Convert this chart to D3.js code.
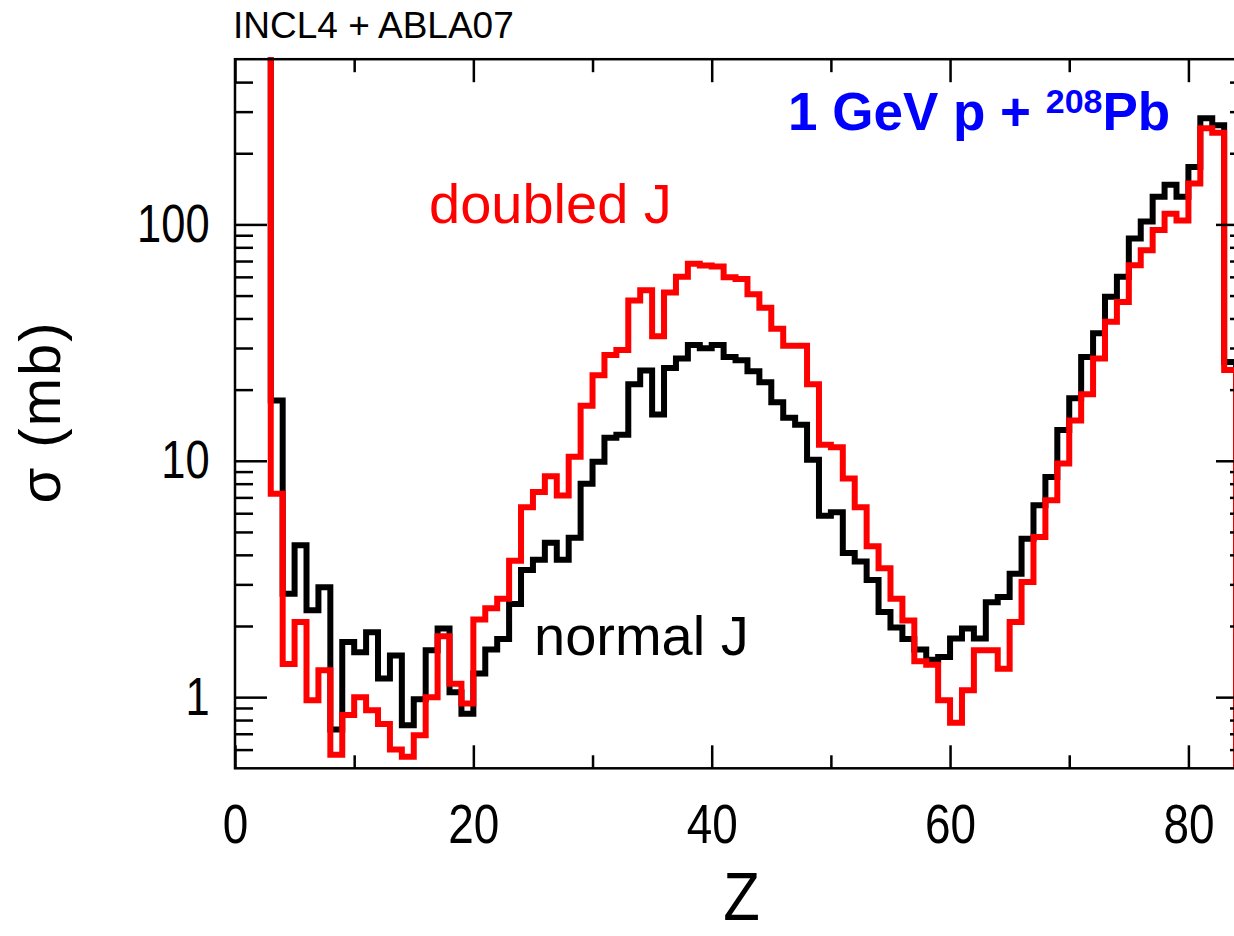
<!DOCTYPE html>
<html><head><meta charset="utf-8">
<script src="https://cdn.jsdelivr.net/npm/d3@7"></script>
<style>html,body{margin:0;padding:0;background:#fff;overflow:hidden}</style>
</head><body><svg id="c" width="1234" height="936"></svg>
<script>
// Bin lower edges (Z); the Z=2 bin is off-scale (above the top of the frame)
const Z = [2,3,4,5,6,7,8,9,10,11,12,13,14,15,16,17,18,19,20,21,22,23,24,25,26,27,28,29,30,31,32,33,34,35,36,37,38,39,40,41,42,43,44,45,46,47,48,49,50,51,52,53,54,55,56,57,58,59,60,61,62,63,64,65,66,67,68,69,70,71,72,73,74,75,76,77,78,79,80,81,82,83];
const normalJ = [3000,18.0,2.74,4.39,2.33,2.92,0.73,1.71,1.55,1.88,1.20,1.50,0.76,0.98,1.58,1.95,1.05,0.85,1.26,1.59,1.76,2.48,3.45,3.81,4.50,3.81,4.72,8.0,9.91,12.5,12.9,21.1,24.1,15.7,24.7,27.1,30.9,29.9,30.9,27.5,26.6,23.9,21.5,17.7,15.2,14.2,10.1,5.85,6.05,4.07,3.75,3.13,2.29,1.97,1.76,1.59,1.44,1.48,1.77,1.95,1.77,2.52,2.65,3.33,4.68,6.48,8.54,13.5,18.4,27.5,34.6,49.4,60,87.2,103,131,147,131,175,281,263,26.2];
const doubledJ = [3000,7.26,1.38,2.08,0.97,1.30,0.57,0.84,1.0,0.88,0.77,0.60,0.56,0.69,1.0,1.81,1.14,0.94,2.13,2.38,2.61,3.78,6.36,7.37,8.61,7.13,10.4,17.1,23.0,28.0,29.4,47.7,52.7,33.6,51.5,60.1,68.1,67.0,66.4,59.7,58.7,50.6,44.4,36.2,30.7,30.7,21.1,11.7,11.4,8.41,6.36,4.35,3.51,2.61,2.11,1.42,1.37,0.97,0.78,1.07,1.58,1.58,1.32,2.08,3.07,4.76,6.80,9.73,14.8,19.1,27.1,38.7,47.0,67.2,77.8,94.6,111,104,149,255,244,24.2];
const xMajorTicks = [0,20,40,60,80];
const xMinorTicks = [10,30,50,70];
const yMajorTicks = [1,10,100];
const yMinorTicks = [0.6,0.7,0.8,0.9,2,3,4,5,6,7,8,9,20,30,40,50,60,70,80,90,200,300,400];
const xDomain = [0,85];
const yDomain = [0.5,500];

const svg = d3.select('#c');
const L = 235, R = 1248, T = 59.2, B = 768.3;
const x = d3.scaleLinear().domain(xDomain).range([L,R]);
const y = d3.scaleLog().domain(yDomain).range([B,T]);

svg.append('rect').attr('width',1234).attr('height',936).attr('fill','#fff');

const defs = svg.append('defs');
defs.append('clipPath').attr('id','plotclip').append('rect')
  .attr('x',L).attr('y',T-2).attr('width',R-L).attr('height',B-T+2);

// histograms
const line = d3.line().x(d=>x(d.z)).y(d=>y(d.v)).curve(d3.curveStepAfter);
function pts(vals){
  const p = Z.map((z,i)=>({z:z,v:vals[i]}));
  const last = Z[Z.length-1]+1;
  p.push({z:last, v:vals[vals.length-1]});
  p.push({z:last, v:yDomain[0]/10});
  return p;
}
const g = svg.append('g').attr('clip-path','url(#plotclip)');
g.append('path').attr('d',line(pts(normalJ))).attr('fill','none')
  .attr('stroke','#000').attr('stroke-width',6).attr('stroke-linejoin','miter');
g.append('path').attr('d',line(pts(doubledJ))).attr('fill','none')
  .attr('stroke','#ff0000').attr('stroke-width',6).attr('stroke-linejoin','miter');

// axes
const wordFont = "'Liberation Sans',Arial,sans-serif";
const narrow = 0.82;
function styleAxis(sel){
  sel.select('.domain').remove();
  sel.selectAll('line').attr('stroke','#000').attr('stroke-width',2.5);
}
const bMaj = svg.append('g').attr('transform',`translate(0,${B})`)
  .call(d3.axisBottom(x).tickValues(xMajorTicks).tickSizeInner(-23).tickSizeOuter(0).tickPadding(35).tickFormat(d3.format('d')));
styleAxis(bMaj);
bMaj.selectAll('text').attr('font-family',wordFont).attr('font-size',56).attr('fill','#000')
  .attr('transform',`scale(${narrow},1)`);
const bMin = svg.append('g').attr('transform',`translate(0,${B})`)
  .call(d3.axisBottom(x).tickValues(xMinorTicks).tickSizeInner(-13).tickSizeOuter(0).tickFormat(''));
styleAxis(bMin);
const tMaj = svg.append('g').attr('transform',`translate(0,${T})`)
  .call(d3.axisTop(x).tickValues(xMajorTicks).tickSizeInner(-23).tickSizeOuter(0).tickFormat(''));
styleAxis(tMaj);
const tMin = svg.append('g').attr('transform',`translate(0,${T})`)
  .call(d3.axisTop(x).tickValues(xMinorTicks).tickSizeInner(-13).tickSizeOuter(0).tickFormat(''));
styleAxis(tMin);

const lMaj = svg.append('g').attr('transform',`translate(${L},0)`)
  .call(d3.axisLeft(y).tickValues(yMajorTicks).tickSizeInner(-32).tickSizeOuter(0).tickPadding(31).tickFormat(d3.format('d')));
styleAxis(lMaj);
lMaj.selectAll('text').attr('font-family',wordFont).attr('font-size',53).attr('fill','#000')
  .attr('transform',`scale(${narrow},1)`);
const lMin = svg.append('g').attr('transform',`translate(${L},0)`)
  .call(d3.axisLeft(y).tickValues(yMinorTicks).tickSizeInner(-18).tickSizeOuter(0).tickFormat(''));
styleAxis(lMin);
const rMaj = svg.append('g').attr('transform',`translate(${R},0)`)
  .call(d3.axisRight(y).tickValues(yMajorTicks).tickSizeInner(-32).tickSizeOuter(0).tickFormat(''));
styleAxis(rMaj);
const rMin = svg.append('g').attr('transform',`translate(${R},0)`)
  .call(d3.axisRight(y).tickValues(yMinorTicks).tickSizeInner(-18).tickSizeOuter(0).tickFormat(''));
styleAxis(rMin);

// frame
svg.append('rect').attr('x',L).attr('y',T).attr('width',R-L).attr('height',B-T)
  .attr('fill','none').attr('stroke','#000').attr('stroke-width',2.5);

// axis titles
svg.append('text').attr('transform',`translate(${x((xDomain[0]+xDomain[1])/2)},920) scale(0.88,1)`)
  .attr('text-anchor','middle').attr('font-family',wordFont).attr('font-size',68).attr('fill','#000').text('Z');
svg.append('text').attr('transform','translate(60,412) rotate(-90)')
  .attr('text-anchor','middle').attr('font-family',wordFont).attr('font-size',58)
  .attr('letter-spacing',2).attr('fill','#000').text('σ (mb)');

// annotations
svg.append('text').attr('x',233).attr('y',37.5).attr('font-family',wordFont).attr('font-size',37)
  .attr('fill','#000').text('INCL4 + ABLA07');
svg.append('text').attr('x',429).attr('y',223).attr('font-family',wordFont).attr('font-size',56)
  .attr('fill','#ff0000').text('doubled J');
svg.append('text').attr('x',534).attr('y',655).attr('font-family',wordFont).attr('font-size',56)
  .attr('fill','#000').text('normal J');
const title = svg.append('text').attr('x',788).attr('y',130).attr('font-family',wordFont)
  .attr('font-weight','bold').attr('font-size',53).attr('fill','#0000ff');
title.append('tspan').text('1 GeV p + ');
title.append('tspan').attr('font-size',34).attr('dy',-17).text('208');
title.append('tspan').attr('dy',17).text('Pb');
</script></body></html>
